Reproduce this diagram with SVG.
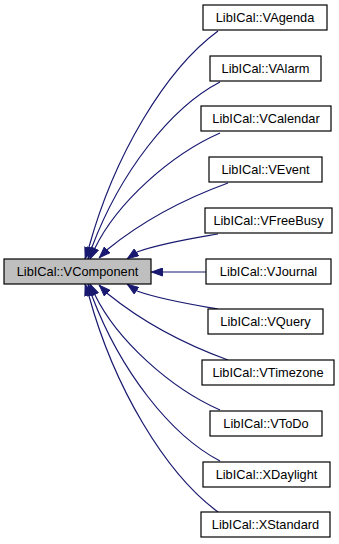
<svg xmlns="http://www.w3.org/2000/svg" width="339" height="544" viewBox="0 0 339 544">
  <style>
    .node rect { fill: #ffffff; stroke: #000000; stroke-width: 1.2; }
    .node.base rect { fill: #bfbfbf; }
    .node text { font-family: "Liberation Sans", Arial, sans-serif; font-size: 12.8px; fill: #000000; text-anchor: middle; }
    .edges path { fill: none; stroke: #191970; stroke-width: 1.2; marker-end: url(#arrow); }
  </style>
  <defs>
    <marker id="arrow" viewBox="0 0 12 9" refX="12" refY="4.5" markerWidth="12" markerHeight="9" markerUnits="userSpaceOnUse" orient="auto">
      <path d="M0.5,0.5 L11.5,4.5 L0.5,8.5 Z" fill="#191970" stroke="#191970" stroke-width="1"/>
    </marker>
  </defs>
  <rect width="339" height="544" fill="#ffffff"/>

  <!-- inheritance edges, each ending in an arrowhead on VComponent -->
  <g class="edges" id="edges">
    <path d="M218,31 C165,70 114,156 89,247 L85,259"/>
    <path d="M220,82 C170,108 120,173 92,247 L88,259"/>
    <path d="M220,133 C170,155 117,203 95,248 L90,259"/>
    <path d="M228,183 C195,195 150,215 108,249 L99,258"/>
    <path d="M218,234 C195,238 162,243 137,252 L127,259"/>
    <path d="M206,272 L151,272"/>
    <path d="M218,309 C195,305 162,300 137,291 L127,284"/>
    <path d="M228,360 C195,348 150,328 108,294 L99,285"/>
    <path d="M220,410 C170,388 117,340 95,295 L90,284"/>
    <path d="M220,461 C170,435 120,370 92,296 L88,284"/>
    <path d="M218,512 C165,473 114,387 89,296 L85,284"/>
  </g>

  <g class="node base" id="node-vcomponent">
    <rect x="4" y="259" width="147" height="25"/>
    <text x="77.5" y="276">LibICal::VComponent</text>
  </g>
  <g class="node" id="node-vagenda">
    <rect x="203" y="5" width="124" height="25"/>
    <text x="265" y="22">LibICal::VAgenda</text>
  </g>
  <g class="node" id="node-valarm">
    <rect x="210" y="56" width="111" height="25"/>
    <text x="265.5" y="73">LibICal::VAlarm</text>
  </g>
  <g class="node" id="node-vcalendar">
    <rect x="201" y="106" width="130" height="25"/>
    <text x="266" y="123">LibICal::VCalendar</text>
  </g>
  <g class="node" id="node-vevent">
    <rect x="209" y="157" width="113" height="25"/>
    <text x="265.5" y="174">LibICal::VEvent</text>
  </g>
  <g class="node" id="node-vfreebusy">
    <rect x="205" y="208" width="127" height="25"/>
    <text x="268.5" y="225">LibICal::VFreeBusy</text>
  </g>
  <g class="node" id="node-vjournal">
    <rect x="206" y="259" width="125" height="25"/>
    <text x="268.5" y="276">LibICal::VJournal</text>
  </g>
  <g class="node" id="node-vquery">
    <rect x="208" y="309" width="115" height="25"/>
    <text x="265.5" y="326">LibICal::VQuery</text>
  </g>
  <g class="node" id="node-vtimezone">
    <rect x="202" y="360" width="132" height="25"/>
    <text x="268" y="377">LibICal::VTimezone</text>
  </g>
  <g class="node" id="node-vtodo">
    <rect x="210" y="411" width="112" height="25"/>
    <text x="266" y="428">LibICal::VToDo</text>
  </g>
  <g class="node" id="node-xdaylight">
    <rect x="203" y="462" width="127" height="25"/>
    <text x="266.5" y="479">LibICal::XDaylight</text>
  </g>
  <g class="node" id="node-xstandard">
    <rect x="201" y="512" width="129" height="25"/>
    <text x="265.5" y="529">LibICal::XStandard</text>
  </g>
</svg>
